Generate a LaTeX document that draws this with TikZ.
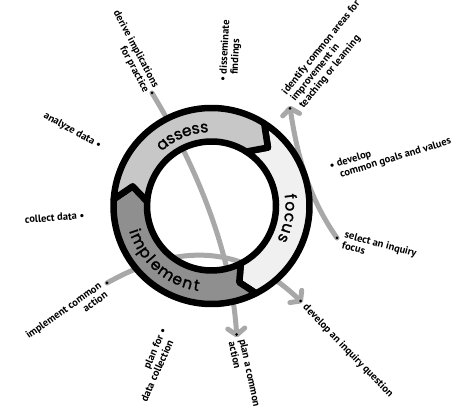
\documentclass[tikz,border=0pt]{standalone}
\usepackage{fontspec}
\setmainfont{PT Sans}
\newfontfamily\ringfont{Poppins}[FakeBold=1.5]
\usetikzlibrary{arrows.meta}
\definecolor{assessfill}{gray}{0.78}
\definecolor{focusfill}{gray}{0.94}
\definecolor{implfill}{gray}{0.56}
\definecolor{connc}{gray}{0.66}
\newcommand\ringseg[6]{%
  \path[band, fill=#1] (#2:98) arc[start angle=#2, end angle=#3, radius=98]
    -- (#4:81.25) -- (#3:64.5) arc[start angle=#3, end angle=#2, radius=64.5]
    -- (#5:81.25) -- cycle;}
\begin{document}
\begin{tikzpicture}[x=1pt,y=1pt,
  lbl/.style={font=\bfseries\fontsize{10.5}{11}\selectfont, inner sep=0pt, text=black},
  conn/.style={draw=connc, line width=5pt, line cap=round,
     -{Straight Barb[length=6.5pt,width=17pt,round]}},
  dotmark/.style={fill=black},
  ringletter/.style={font=\ringfont\fontsize{15.5}{15.5}\selectfont, inner sep=0pt, anchor=base},
  band/.style={draw=black, line width=6.5pt, line join=round}
]
\useasboundingbox (0,0) rectangle (474,417);
\coordinate (C) at (211.5,211);
% connector end points
\coordinate (s1) at (152,324);   \coordinate (e1) at (236.8,79.5);
\coordinate (s2) at (107,134);   \coordinate (e2) at (302.3,114.3);
\coordinate (s3) at (337,179);   \coordinate (e3) at (289.8,311.2);
\coordinate (t1) at (236.7,82.5);
\coordinate (t2) at (300.6,116);
\coordinate (t3) at (290,308.7);
% connectors
\draw[conn] (s1) .. controls (200,245) and (232,160) .. (e1);
\draw[conn] (s2) .. controls (178.3,174.2) and (242,172.6) .. (e2);
\draw[conn] (s3) .. controls (308,220.5) and (297,262.5) .. (e3);
% ring
\begin{scope}[shift={(C)}]
  \ringseg{focusfill}{57.5}{-63}{-70}{46}{}
  \ringseg{implfill}{-63}{-184}{-194}{-70}{}
  \ringseg{assessfill}{176}{57.5}{46}{166}{}
  \foreach \c/\a [count=\i] in {a/128.5, s/121.4, s/115.1, e/108.4, s/101.7, s/95.3}
    \node[ringletter, rotate=\a-90] (ra\i) at (\a:74) {\c};
  \foreach \c/\a [count=\i] in {f/6.9, o/-0.23, c/-8.39, u/-16.45, s/-24.2}
    \node[ringletter, rotate=\a-90] (rf\i) at (\a:74) {\c};
  \foreach \c/\a [count=\i] in {i/198.2, m/205.64, p/214.97, l/221.03, e/226.89, m/236.03, e/245.16, n/252.8, t/259.4}
    \node[ringletter, rotate=\a+90] (ri\i) at (\a:86) {\c};
\end{scope}
% dots
\foreach \p in {s1,s2,s3,t1,t2,t3} \fill[dotmark] (\p) circle[radius=1.5];
% labels
\node[lbl, anchor=east, rotate=-62, align=right] (lA) at (151,327.5) {derive implications\\for practice};
\node[lbl, anchor=west, rotate=87, align=left] (lB) at (229,335) {\textbullet\ disseminate\\\hphantom{\textbullet\ }findings};
\node[lbl, anchor=west, rotate=51, align=left] (lC) at (293,316.5) {identify common areas for\\improvement in\\teaching or learning};
\node[lbl, anchor=west, rotate=17, align=left] (lD) at (331.5,245) {\textbullet\ develop\\\hphantom{\textbullet\ }common goals and values};
\node[lbl, anchor=west, rotate=-15, align=left] (lE) at (343.5,177.5) {select an inquiry\\focus};
\node[lbl, anchor=west, rotate=-46] (lF) at (304.5,111) {develop an inquiry question};
\node[lbl, anchor=west, rotate=-78, align=left] (lG) at (237.5,76.6) {plan a common\\action};
\node[lbl, anchor=east, rotate=66, align=right] (lH) at (165.5,79) {plan for\rlap{\ \textbullet}\\data collection};
\node[lbl, anchor=east, rotate=35, align=right] (lI) at (103.3,128) {implement common\\action};
\node[lbl, anchor=east, rotate=4] (lJ) at (84.5,201.5) {collect data \textbullet};
\node[lbl, anchor=east, rotate=-29] (lK) at (100.5,270.5) {analyze data \textbullet};
\end{tikzpicture}
\end{document}
